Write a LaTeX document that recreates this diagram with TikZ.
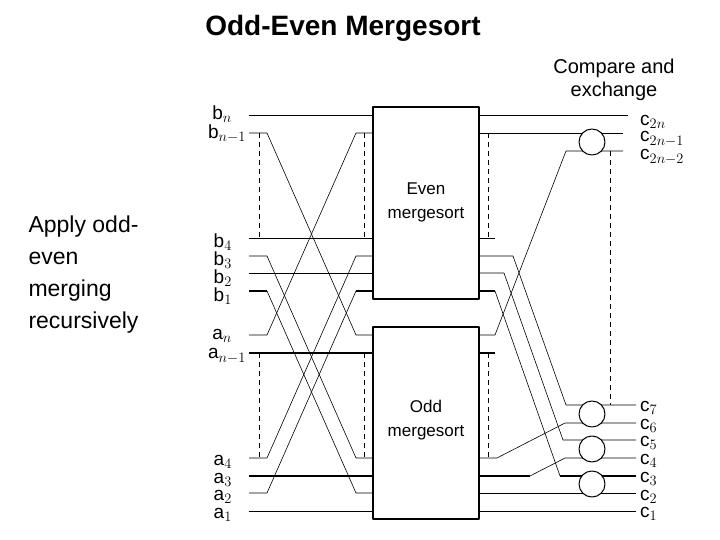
\documentclass[tikz,border=0pt]{standalone}
\usepackage{fontspec}
\setmainfont{Liberation Sans}
\usetikzlibrary{positioning}
\begin{document}
\begin{tikzpicture}[x=1pt,y=-1pt,line cap=butt,line join=round,
	wire/.style={line width=0.6pt},
	thick wire/.style={line width=1.6pt},
	guide/.style={line width=0.7pt,dash pattern=on 5pt off 4pt},
	lab/.style={anchor=east,inner sep=0pt,font=\fontsize{19}{19}\selectfont},
	rlab/.style={anchor=west,inner sep=0pt,font=\fontsize{19}{19}\selectfont},
	cmp/.style={draw,circle,line width=1pt,minimum size=26pt,inner sep=0pt,fill=white}]
	\useasboundingbox (0,0) rectangle (720,540);
	
	\node[font=\fontsize{28}{28}\selectfont\bfseries] at (343,28) {Odd-Even Mergesort};
	\node[align=center,font=\fontsize{20}{23}\selectfont] at (614,80) {Compare and\\exchange};
	\node[align=left,anchor=north west,font=\fontsize{23}{32}\selectfont] at (25,212) {Apply odd-\\even\\merging\\recursively};
	
	% mergers
	\node[draw,line width=1.6pt,minimum width=106pt,minimum height=192pt,inner sep=0pt] (even) at (426,203) {};
	\node[draw,line width=1.6pt,minimum width=106pt,minimum height=192pt,inner sep=0pt] (odd) at (426,423) {};
	\node[align=center,font=\fontsize{17}{24}\selectfont] at (426,202) {Even\\mergesort};
	\node[align=center,font=\fontsize{17}{24}\selectfont] at (426,420) {Odd\\mergesort};
	
	% dashed guides
	\draw[guide] (259,133) -- (259,238);
	\draw[guide] (364,133) -- (364,238);
	\draw[guide] (259,353) -- (259,458);
	\draw[guide] (364,353) -- (364,458);
	\draw[guide] (488,133) -- (488,238);
	\draw[guide] (488,353) -- (488,458);
	\draw[guide] (610,151) -- (610,405);
	
	% left wiring
	\draw[wire] (249,115) -- (373,115);
	\draw[wire] (249,133) -- (267,133) -- (356,335) -- (373,335);
	\draw[wire] (249,238) -- (373,238);
	\draw[wire] (249,256) -- (267,256) -- (356,458) -- (373,458);
	\draw[wire] (249,273) -- (373,273);
	\draw[thick wire] (249,291) -- (267,291);
	\draw[wire] (267,291) -- (356,493) -- (373,493);
	\draw[wire] (249,335) -- (267,335) -- (356,133) -- (373,133);
	\draw[thick wire] (249,353) -- (373,353);
	\draw[wire] (249,458) -- (267,458) -- (356,256) -- (373,256);
	\draw[thick wire] (249,476) -- (373,476);
	\draw[wire] (249,493) -- (267,493) -- (356,291);
	\draw[thick wire] (356,291) -- (373,291);
	\draw[wire] (249,511) -- (373,511);
	
	% right wiring
	\draw[wire] (479,115) -- (628,115);
	\draw[wire] (479,133) -- (623,133);
	\draw[wire] (479,238) -- (495,238);
	\draw[thick wire] (479,353) -- (495,353);
	\draw[wire] (479,335) -- (495,335) -- (566,151) -- (623,151);
	\draw[wire] (479,256) -- (513,256) -- (566,405) -- (636,405);
	\draw[wire] (479,273) -- (504,273) -- (563,440) -- (636,440);
	\draw[thick wire] (479,291) -- (495,291);
	\draw[wire] (495,291) -- (560,476);
	\draw[thick wire] (560,476) -- (636,476);
	\draw[wire] (479,458) -- (497,458) -- (565,423) -- (636,423);
	\draw[thick wire] (479,476) -- (530,476);
	\draw[wire] (530,476) -- (565,458) -- (636,458);
	\draw[wire] (479,493) -- (636,493);
	\draw[wire] (479,511) -- (636,511);
	
	% comparators
	\node[cmp] (k1) at (592,142) {};
	\node[cmp] (k2) at (592,414) {};
	\node[cmp] (k3) at (592,449) {};
	\node[cmp] (k4) at (592,484) {};
	
	% labels
	\node[lab] at (232,114) {b$_n$};
	\node[lab] at (246,134) {b$_{n-1}$};
	\node[lab] at (232,242) {b$_4$};
	\node[lab] at (232,260) {b$_3$};
	\node[lab] at (232,278) {b$_2$};
	\node[lab] at (232,296) {b$_1$};
	\node[lab] at (232,336) {a$_n$};
	\node[lab] at (246,356) {a$_{n-1}$};
	\node[lab] at (232,462) {a$_4$};
	\node[lab] at (232,480) {a$_3$};
	\node[lab] at (232,497) {a$_2$};
	\node[lab] at (232,515) {a$_1$};
	\node[rlab] at (640,122) {c$_{2n}$};
	\node[rlab] at (640,139) {c$_{2n-1}$};
	\node[rlab] at (640,157) {c$_{2n-2}$};
	\node[rlab] at (640,408) {c$_7$};
	\node[rlab] at (640,426) {c$_6$};
	\node[rlab] at (640,443) {c$_5$};
	\node[rlab] at (640,461) {c$_4$};
	\node[rlab] at (640,479) {c$_3$};
	\node[rlab] at (640,497) {c$_2$};
	\node[rlab] at (640,514) {c$_1$};
\end{tikzpicture}
\end{document}
